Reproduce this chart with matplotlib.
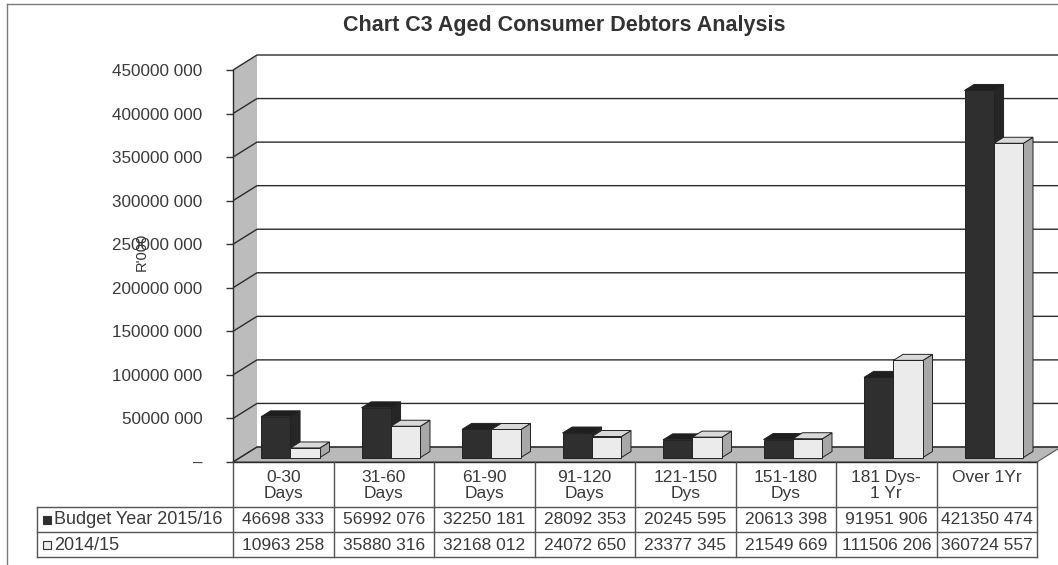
import matplotlib
matplotlib.use("Agg")
import matplotlib.pyplot as plt
from matplotlib.patches import Polygon, Rectangle
from matplotlib.transforms import blended_transform_factory

plt.rcParams['font.family'] = ['Liberation Sans', 'DejaVu Sans']

# ---- data -------------------------------------------------------------
categories = ["0-30\nDays", "31-60\nDays", "61-90\nDays", "91-120\nDays",
              "121-150\nDys", "151-180\nDys", "181 Dys-\n1 Yr", "Over 1Yr"]
series_names = ["Budget Year 2015/16", "2014/15"]
budget_2015_16 = [46698333, 56992076, 32250181, 28092353,
                  20245595, 20613398, 91951906, 421350474]
actual_2014_15 = [10963258, 35880316, 32168012, 24072650,
                  23377345, 21549669, 111506206, 360724557]
y_ticks = [0, 50000000, 100000000, 150000000, 200000000,
           250000000, 300000000, 350000000, 400000000, 450000000]
title = "Chart C3 Aged Consumer Debtors Analysis"
y_label = "R'000"


def fmt(v):
    if v == 0:
        return "\u2013"
    return f"{v // 1000} {v % 1000:03d}"


# ---- layout (pixels) --------------------------------------------------
FW, FH = 1058, 565
L, R, B, T = 233, 1037, 462, 70
fig = plt.figure(figsize=(FW / 100, FH / 100), dpi=100)
fig.patch.set_facecolor("white")


def fy(py):
    return 1 - py / FH


def fx(px):
    return px / FW


ax = fig.add_axes([fx(L), fy(B), (R - L) / FW, (B - T) / FH])
n = len(categories)
ymax = y_ticks[-1]
ax.set_xlim(0, n)
ax.set_ylim(0, ymax)
ax.patch.set_alpha(0)
for s in ("top", "right", "bottom"):
    ax.spines[s].set_visible(False)
ax.spines["left"].set_color("#2a2a2a")
ax.spines["left"].set_linewidth(1.0)
ax.spines["left"].set_zorder(6)
ax.set_xticks([])
ax.set_yticks(y_ticks)
ax.set_yticklabels([fmt(v) for v in y_ticks])
ax.tick_params(axis="y", length=5, width=1, color="#333333", pad=17,
               labelsize=12.3, labelcolor="#3a3a3a")

# depth offsets of the 3-D box, in data units
xpp = n / (R - L)
ypp = ymax / (B - T)
DX = 24 * xpp
DY = 15 * ypp


def P(x, y, d):
    return (x + d * DX, y + d * DY)


def poly(points, fc, ec="none", lw=0.0, z=1):
    ax.add_patch(Polygon(points, closed=True, facecolor=fc, edgecolor=ec,
                         linewidth=lw, zorder=z, clip_on=False))


# walls and floor
poly([P(0, 0, 0), P(0, ymax, 0), P(0, ymax, 1), P(0, 0, 1)], "#bcbcbc", z=1)
poly([P(0, 0, 0), P(n, 0, 0), P(n, 0, 1), P(0, 0, 1)], "#b9b9b9",
     ec="#555555", lw=0.8, z=1)

# gridlines across side wall and back wall
for v in y_ticks:
    pts = [P(0, v, 0), P(0, v, 1), P(n, v, 1)]
    ax.plot([p[0] for p in pts], [p[1] for p in pts], color="#2b2b2b",
            lw=1.0, zorder=2, clip_on=False, solid_capstyle="butt")

# bars
w = 0.293
off = (1 - 2 * w) / 2
d0, d1 = 0.3, 0.7
styles = [
    dict(front="#2f2f2f", top="#1f1f1f", side="#262626"),
    dict(front="#ebebeb", top="#d9d9d9", side="#a8a8a8"),
]
for i in range(n):
    for k, vals in enumerate((budget_2015_16, actual_2014_15)):
        v = vals[i]
        x0 = i + off + k * w
        x1 = x0 + w
        st = styles[k]
        z = 3 + 0.01 * i + 0.001 * k
        poly([P(x1, 0, d0), P(x1, v, d0), P(x1, v, d1), P(x1, 0, d1)],
             st["side"], ec="#222222", lw=0.7, z=z)
        poly([P(x0, v, d0), P(x1, v, d0), P(x1, v, d1), P(x0, v, d1)],
             st["top"], ec="#222222", lw=0.7, z=z)
        poly([P(x0, 0, d0), P(x1, 0, d0), P(x1, v, d0), P(x0, v, d0)],
             st["front"], ec="#222222", lw=0.7, z=z + 0.0005)

# front edge of the floor
ax.plot([0, n], [0, 0], color="#2a2a2a", lw=1.0, zorder=6, clip_on=False)

# ---- title, axis label, frame ----------------------------------------
fig.text(fx(564), fy(25), title, ha="center", va="center", fontsize=15.5,
         fontweight="bold", color="#333333")
fig.text(fx(142), fy(252), y_label, ha="center", va="center", rotation=90,
         fontsize=10.5, color="#333333")
fig.add_artist(plt.Line2D([fx(7), 1], [fy(4), fy(4)], color="#7a7a7a", lw=1.0))
fig.add_artist(plt.Line2D([fx(7), fx(7)], [fy(4), 0], color="#7a7a7a", lw=1.0))

# ---- data table -------------------------------------------------------
tr = blended_transform_factory(ax.transData, fig.transFigure)
line_c = "#555555"
hdr_bottom, row_mid, tbl_bottom = 507, 532, 557
lab_left = 37
for i in range(n + 1):
    fig.add_artist(plt.Line2D([i, i], [fy(B), fy(tbl_bottom)], transform=tr,
                              color=line_c, lw=1.0))
for py in (hdr_bottom, row_mid, tbl_bottom):
    fig.add_artist(plt.Line2D([fx(lab_left), fx(R)], [fy(py), fy(py)],
                              color=line_c, lw=1.0))
fig.add_artist(plt.Line2D([fx(lab_left), fx(lab_left)],
                          [fy(hdr_bottom), fy(tbl_bottom)], color=line_c, lw=1.0))

for i, c in enumerate(categories):
    fig.text(i + 0.5, fy(470), c, transform=tr, ha="center", va="top",
             fontsize=12.5, color="#3a3a3a", linespacing=1.05)

row_y = [520, 545]
key_fc = ["#2f2f2f", "#ebebeb"]
for r, (name, vals) in enumerate(zip(series_names, (budget_2015_16, actual_2014_15))):
    yc = row_y[r]
    fig.add_artist(Rectangle((fx(43), fy(yc + 4)), 8 / FW, 8 / FH,
                             transform=fig.transFigure, facecolor=key_fc[r],
                             edgecolor="#333333", lw=0.8))
    fig.text(fx(54), fy(yc), name, ha="left", va="center", fontsize=13,
             color="#3a3a3a")
    for i, v in enumerate(vals):
        fig.text(i + 0.5, fy(yc), fmt(v), transform=tr, ha="center",
                 va="center", fontsize=12.5, color="#3a3a3a")

fig.savefig("out.png", dpi=100)
